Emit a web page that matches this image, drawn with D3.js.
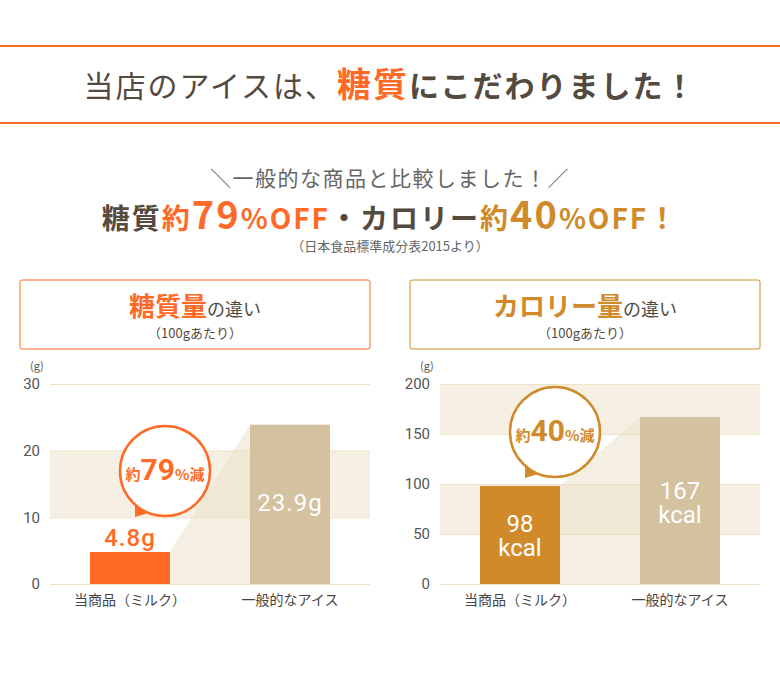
<!DOCTYPE html>
<html><head><meta charset="utf-8">
<script src="https://cdn.jsdelivr.net/npm/d3@7"></script>
<style>body{margin:0;background:#fff}svg{display:block;font-family:"Noto Sans CJK JP","Noto Sans",sans-serif}</style>
</head><body><svg id="c" width="780" height="680"></svg>
<script>
var categories = ['当商品（ミルク）', '一般的なアイス'];
var sugarValues = [4.8, 23.9];
var sugarLabels = ['4.8g', '23.9g'];
var sugarTicks = [0, 10, 20, 30];
var calValues = [98, 167];
var calLabels = [['98', 'kcal'], ['167', 'kcal']];
var calTicks = [0, 50, 100, 150, 200];

var ORANGE = '#ff6a26', GOLD = '#d08a2a', TAN = '#d4c19f', DARK = '#544a3f';
var svg = d3.select('#c');

svg.append('line').attr('x1', 0).attr('x2', 780).attr('y1', 46).attr('y2', 46).attr('stroke', ORANGE).attr('stroke-width', 2);
svg.append('line').attr('x1', 0).attr('x2', 780).attr('y1', 123).attr('y2', 123).attr('stroke', ORANGE).attr('stroke-width', 2);
var t = svg.append('text').attr('x', 390).attr('y', 97).attr('text-anchor', 'middle').attr('font-size', 30).attr('fill', DARK).attr('letter-spacing', 2);
t.append('tspan').text('当店のアイスは、');
t.append('tspan').text('糖質').attr('fill', ORANGE).attr('font-weight', 'bold').attr('font-size', 34);
t.append('tspan').text('にこだわりました！').attr('font-weight', 'bold');

svg.append('text').attr('x', 390).attr('y', 186).attr('text-anchor', 'middle').attr('font-size', 21).attr('letter-spacing', 1.5).attr('fill', '#666').text('＼一般的な商品と比較しました！／');
var t2 = svg.append('text').attr('x', 390).attr('y', 229).attr('text-anchor', 'middle').attr('font-size', 28).attr('font-weight', 'bold').attr('fill', DARK).attr('letter-spacing', 2);
t2.append('tspan').text('糖質');
t2.append('tspan').text('約').attr('fill', ORANGE);
t2.append('tspan').text('79').attr('fill', ORANGE).attr('font-size', 38);
t2.append('tspan').text('%OFF').attr('fill', ORANGE);
t2.append('tspan').text('・カロリー');
t2.append('tspan').text('約').attr('fill', GOLD);
t2.append('tspan').text('40').attr('fill', GOLD).attr('font-size', 38);
t2.append('tspan').text('%OFF！').attr('fill', GOLD);
svg.append('text').attr('x', 390).attr('y', 251).attr('text-anchor', 'middle').attr('font-size', 13).attr('fill', '#666').text('（日本食品標準成分表2015より）');

function panel(opt) {
  var g = svg.append('g');
  g.append('rect').attr('x', opt.x0).attr('y', 280).attr('width', 350).attr('height', 69).attr('fill', '#fff').attr('stroke', opt.color).attr('rx', 2);
  var h = g.append('text').attr('x', opt.x0 + 175).attr('y', 316).attr('text-anchor', 'middle').attr('font-size', 18).attr('fill', DARK);
  h.append('tspan').text(opt.head).attr('fill', opt.color).attr('font-size', 26).attr('font-weight', 'bold');
  h.append('tspan').text('の違い');
  g.append('text').attr('x', opt.x0 + 175).attr('y', 338).attr('text-anchor', 'middle').attr('font-size', 13).attr('fill', DARK).text('（100gあたり）');

  var y = d3.scaleLinear().domain([0, opt.ticks[opt.ticks.length - 1]]).range([584, 384]);
  var x = d3.scaleBand().domain(categories).range([opt.x0 + 30, opt.x0 + 350]).paddingInner(0.5).paddingOuter(0.25);
  opt.bands.forEach(function(b) {
    g.append('rect').attr('x', opt.x0 + 30).attr('width', 320).attr('y', y(b[1])).attr('height', y(b[0]) - y(b[1])).attr('fill', '#f6f0e4');
  });
  g.append('g').attr('transform', 'translate(' + (opt.x0 + 30) + ',0)')
    .call(d3.axisLeft(y).tickValues(opt.ticks).tickSize(-320).tickPadding(10))
    .call(function(a) {
      a.select('.domain').remove();
      a.selectAll('line').attr('stroke', '#f0e2c4');
      a.selectAll('text').attr('font-size', 15).attr('fill', '#555').attr('font-family', 'Roboto, sans-serif');
    });
  g.append('text').attr('x', opt.x0 + 10).attr('y', 370).attr('font-size', 11).attr('fill', '#555').text('(g)');

  var x1 = x(categories[0]) + x.bandwidth(), x2 = x(categories[1]);
  g.append('path').attr('d', 'M' + x1 + ',' + y(opt.values[0]) + 'L' + x2 + ',' + y(opt.values[1]) + 'L' + x2 + ',584L' + x1 + ',584Z')
    .attr('fill', '#e8dcc2').attr('opacity', 0.45);
  g.selectAll('.bar').data(opt.values).enter().append('rect')
    .attr('x', function(d, i) { return x(categories[i]); })
    .attr('y', function(d) { return y(d); })
    .attr('width', x.bandwidth())
    .attr('height', function(d) { return 584 - y(d); })
    .attr('fill', function(d, i) { return i === 0 ? opt.color : TAN; });
  g.selectAll('.cat').data(categories).enter().append('text')
    .attr('x', function(d) { return x(d) + x.bandwidth() / 2; }).attr('y', 605)
    .attr('text-anchor', 'middle').attr('font-size', 14).attr('fill', '#444').text(function(d) { return d; });

  var cx = opt.bubble[0], cy = opt.bubble[1], r = 45;
  g.append('path').attr('d', 'M' + (cx - 30) + ',' + (cy + 28) + 'L' + (cx - 30) + ',' + (cy + 46) + 'L' + (cx - 10) + ',' + (cy + 40) + 'Z').attr('fill', opt.color);
  g.append('circle').attr('cx', cx).attr('cy', cy).attr('r', r).attr('fill', '#fff').attr('stroke', opt.color).attr('stroke-width', 2.5);
  var bt = g.append('text').attr('x', cx).attr('y', cy + 9).attr('text-anchor', 'middle').attr('fill', opt.color).attr('font-size', 15).attr('font-weight', 'bold');
  bt.append('tspan').text('約');
  bt.append('tspan').text(opt.pct).attr('font-size', 30).attr('font-family', 'Roboto, sans-serif');
  bt.append('tspan').text('%減');
  opt.labels(g, x, y);
}

panel({
  x0: 20, color: ORANGE, head: '糖質量', ticks: sugarTicks, values: sugarValues, bands: [[10, 20]],
  bubble: [165, 471], pct: '79',
  labels: function(g, x, y) {
    g.append('text').attr('x', x(categories[0]) + x.bandwidth() / 2).attr('y', y(sugarValues[0]) - 6).attr('text-anchor', 'middle')
      .attr('font-size', 24).attr('font-weight', 500).attr('letter-spacing', 1).attr('fill', ORANGE).attr('font-family', 'Roboto, sans-serif').text(sugarLabels[0]);
    g.append('text').attr('x', x(categories[1]) + x.bandwidth() / 2).attr('y', 511).attr('text-anchor', 'middle')
      .attr('font-size', 24).attr('letter-spacing', 1).attr('fill', '#fff').attr('font-family', 'Roboto, sans-serif').text(sugarLabels[1]);
  }
});
panel({
  x0: 410, color: GOLD, head: 'カロリー量', ticks: calTicks, values: calValues, bands: [[50, 100], [150, 200]],
  bubble: [555, 432], pct: '40',
  labels: function(g, x, y) {
    [[0, 532], [1, 499]].forEach(function(p) {
      var tx = g.append('text').attr('x', x(categories[p[0]]) + x.bandwidth() / 2).attr('y', p[1]).attr('text-anchor', 'middle')
        .attr('font-size', 24).attr('fill', '#fff').attr('font-family', 'Roboto, sans-serif');
      tx.append('tspan').text(calLabels[p[0]][0]);
      tx.append('tspan').attr('x', x(categories[p[0]]) + x.bandwidth() / 2).attr('dy', 24).text(calLabels[p[0]][1]);
    });
  }
});
</script></body></html>
